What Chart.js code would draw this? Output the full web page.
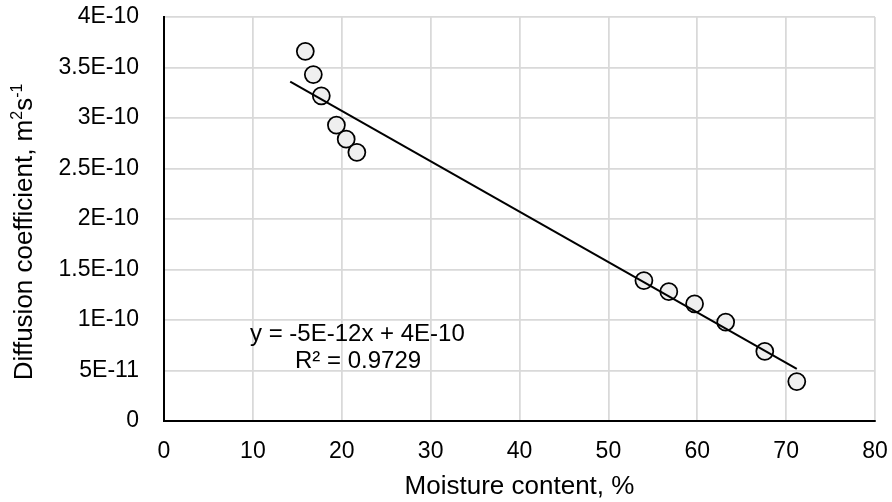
<!DOCTYPE html>
<html>
<head>
<meta charset="utf-8">
<script src="https://cdn.jsdelivr.net/npm/chart.js@4"></script>
<style>
  html, body { margin: 0; padding: 0; background: #fff; }
  #wrap { width: 892px; height: 502px; }
</style>
</head>
<body>
<div id="wrap"><canvas id="myChart" width="892" height="502"></canvas></div>
<script>
// data
const moisture = [15.9, 16.8, 17.7, 19.4, 20.5, 21.7, 54.0, 56.8, 59.7, 63.2, 67.6, 71.2];
const diffusion = [3.66e-10, 3.43e-10, 3.22e-10, 2.93e-10, 2.79e-10, 2.66e-10,
                   1.39e-10, 1.28e-10, 1.16e-10, 0.98e-10, 0.69e-10, 0.39e-10];
// linear trendline end points
const trendX = [14.2, 71.2];
const trendY = [3.36e-10, 0.515e-10];
const yTickLabels = ['0', '5E-11', '1E-10', '1.5E-10', '2E-10', '2.5E-10', '3E-10', '3.5E-10', '4E-10'];
const eqLines = ['y = -5E-12x + 4E-10', 'R\u00b2 = 0.9729'];
const yTitleParts = [['Diffusion coefficient, m', false], ['2', true], ['s', false], ['-1', true]];

const fontFam = "'Liberation Sans', Arial, sans-serif";

// tulis persamaan regresi dan judul sumbu Y (dengan superscript)
const textPlugin = {
    id: 'extraText',
    afterDatasetsDraw(chart) {
        const ctx = chart.ctx;
        ctx.save();
        ctx.font = '24px ' + fontFam;
        ctx.fillStyle = '#000';
        ctx.textBaseline = 'middle';
        ctx.textAlign = 'left';
        ctx.fillText(eqLines[0], 250, 334);
        ctx.fillText(eqLines[1], 295, 361);
        ctx.restore();
    },
    afterDraw(chart) {
        const ctx = chart.ctx;
        ctx.save();
        const big = '26px ' + fontFam, small = '16px ' + fontFam;
        let total = 0;
        yTitleParts.forEach(p => { ctx.font = p[1] ? small : big; total += ctx.measureText(p[0]).width; });
        ctx.translate(32, 232);
        ctx.rotate(-Math.PI / 2);
        ctx.fillStyle = '#000';
        ctx.textBaseline = 'alphabetic';
        ctx.textAlign = 'left';
        let x = -total / 2;
        yTitleParts.forEach(p => {
            ctx.font = p[1] ? small : big;
            ctx.fillText(p[0], x, p[1] ? -10 : 0);
            x += ctx.measureText(p[0]).width;
        });
        ctx.restore();
    }
};

const ctx = document.getElementById('myChart').getContext('2d');
const myChart = new Chart(ctx, {
    type: 'scatter',
    data: {
        datasets: [{
            label: 'trend',
            data: trendX.map((x, i) => ({ x: x, y: trendY[i] })),
            showLine: true,
            borderColor: '#000',
            borderWidth: 2,
            pointRadius: 0,
            order: 0
        }, {
            label: 'data',
            data: moisture.map((x, i) => ({ x: x, y: diffusion[i] })),
            pointRadius: 8.5,
            pointBackgroundColor: '#efefef',
            pointBorderColor: '#000',
            pointBorderWidth: 1.75,
            order: 1
        }]
    },
    options: {
        responsive: false,
        animation: false,
        layout: { padding: { top: 17, right: 17, left: 0, bottom: 0 } },
        plugins: { legend: { display: false }, tooltip: { enabled: false } },
        scales: {
            x: {
                type: 'linear',
                min: 0, max: 80,
                ticks: { stepSize: 10, color: '#000', font: { size: 23, family: fontFam }, padding: 17 },
                grid: { color: '#d9d9d9', lineWidth: 1.75, drawTicks: false },
                border: { display: true, color: '#000', width: 2 },
                title: { display: true, text: 'Moisture content, %', color: '#000',
                         font: { size: 26, family: fontFam }, padding: { top: 1, bottom: 0 } },
                afterFit(scale) {
                    scale.height = 81;
                    scale.paddingLeft = 0; scale.paddingRight = 0;
                }
            },
            y: {
                type: 'linear',
                min: 0, max: 4e-10,
                ticks: {
                    stepSize: 5e-11, color: '#000', font: { size: 23, family: fontFam }, padding: 25,
                    callback: (v, i) => yTickLabels[i]
                },
                grid: { color: '#d9d9d9', lineWidth: 1.75, drawTicks: false },
                border: { display: true, color: '#000', width: 2 },
                afterFit(scale) {
                    scale.width = 164;
                    scale.paddingTop = 0; scale.paddingBottom = 0;
                }
            }
        }
    },
    plugins: [textPlugin]
});
</script>
</body>
</html>
